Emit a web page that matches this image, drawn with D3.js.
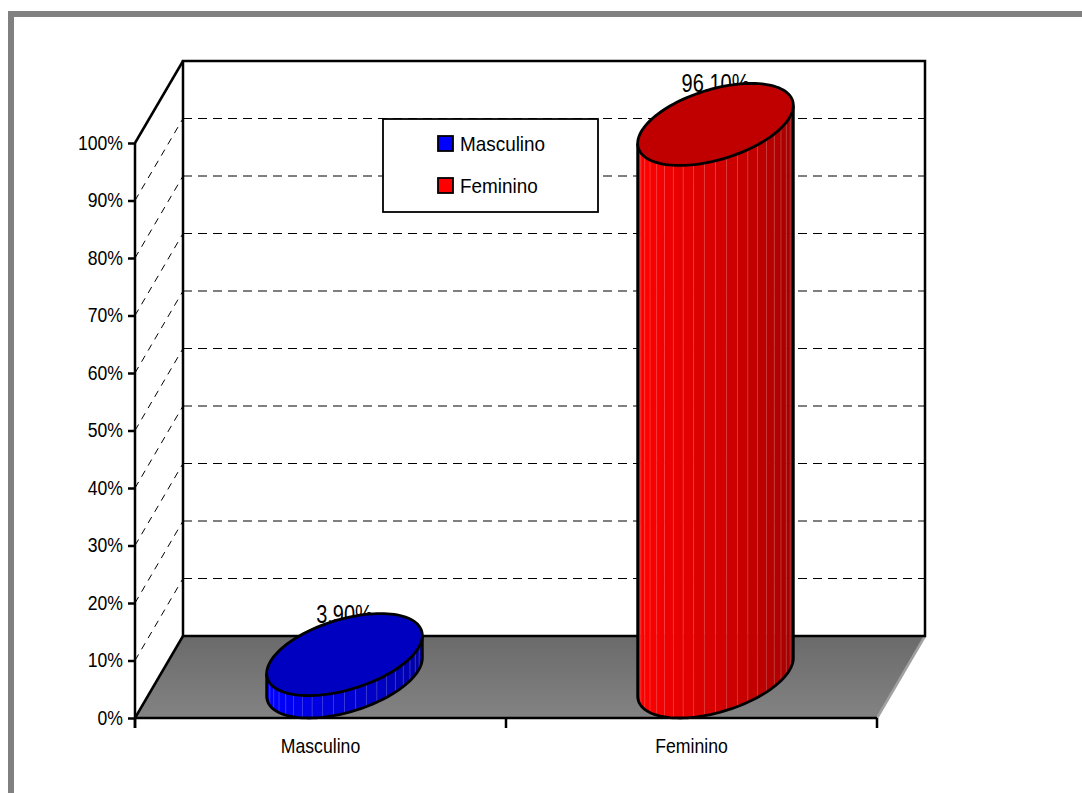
<!DOCTYPE html>
<html><head><meta charset="utf-8">
<script src="https://cdn.jsdelivr.net/npm/d3@7"></script>
<style>
html,body{margin:0;padding:0;background:#fff;overflow:hidden;}
svg{display:block;}
text{font-family:"Liberation Sans",Arial,sans-serif;}
</style></head>
<body>
<svg id="chart" width="1082" height="793"></svg>
<script>
const categories = ["Masculino", "Feminino"];
const values = [0.039, 0.961];
const valueLabels = ["3,90%", "96,10%"];
const colorsTop = ["#0000c0", "#c00000"];
const colorsLight = ["#0000ff", "#ff0000"];
const colorsDark = ["#000099", "#990000"];
const yTicks = [0, 0.1, 0.2, 0.3, 0.4, 0.5, 0.6, 0.7, 0.8, 0.9, 1.0];

const svg = d3.select("#chart");

function condense(sel, f) {
  sel.each(function() {
    const w = this.getComputedTextLength();
    d3.select(this).attr("textLength", w * f).attr("lengthAdjust", "spacingAndGlyphs");
  });
}

// frame
svg.append("rect").attr("x", 11).attr("y", 14).attr("width", 1300).attr("height", 1000)
  .attr("fill", "none").attr("stroke", "#808080").attr("stroke-width", 6);

// 3D geometry
const x0 = 135, x1 = 877, yBottom = 718, yTop = 143;
const DX = 48, DY = -82;
const x = d3.scaleBand().domain(categories).range([x0, x1]);
const y = d3.scaleLinear().domain([0, 1]).range([yBottom, yTop]);

const defs = svg.append("defs");
const fg = defs.append("linearGradient").attr("id", "floorGrad").attr("x1", 0).attr("y1", 0).attr("x2", 0).attr("y2", 1);
fg.append("stop").attr("offset", "0%").attr("stop-color", "#6a6a6a");
fg.append("stop").attr("offset", "100%").attr("stop-color", "#838383");

// floor
svg.append("path")
  .attr("d", `M${x0},${y(0)} L${x0+DX},${y(0)+DY} L${x1+DX},${y(0)+DY} L${x1},${y(0)} Z`)
  .attr("fill", "url(#floorGrad)");
svg.append("line").attr("x1", x1).attr("y1", y(0)).attr("x2", x1+DX).attr("y2", y(0)+DY)
  .attr("stroke", "#a0a0a0").attr("stroke-width", 2.5);

// back wall gridlines
const gridVals = yTicks.filter(v => v > 0 && v < 1);
svg.append("g").selectAll("line").data(gridVals).join("line")
  .attr("x1", x0+DX).attr("x2", x1+DX)
  .attr("y1", d => y(d)+DY).attr("y2", d => y(d)+DY)
  .attr("stroke", "#000").attr("stroke-width", 1).attr("stroke-dasharray", "9,6");
// side wall diagonals
svg.append("g").selectAll("line").data(gridVals).join("line")
  .attr("x1", x0).attr("y1", d => y(d))
  .attr("x2", x0+DX).attr("y2", d => y(d)+DY)
  .attr("stroke", "#000").attr("stroke-width", 1).attr("stroke-dasharray", "7,6");

// back wall frame
svg.append("path")
  .attr("d", `M${x0+DX},${y(0)+DY} L${x0+DX},${y(1)+DY} L${x1+DX},${y(1)+DY} L${x1+DX},${y(0)+DY} Z`)
  .attr("fill", "none").attr("stroke", "#000").attr("stroke-width", 2.5);
svg.append("line").attr("x1", x0).attr("y1", y(1)).attr("x2", x0+DX).attr("y2", y(1)+DY)
  .attr("stroke", "#000").attr("stroke-width", 2.5);
svg.append("line").attr("x1", x0).attr("y1", y(0)).attr("x2", x0+DX).attr("y2", y(0)+DY)
  .attr("stroke", "#000").attr("stroke-width", 2.5);
svg.append("line").attr("x1", x0).attr("y1", y(0)).attr("x2", x1).attr("y2", y(0))
  .attr("stroke", "#000").attr("stroke-width", 2.5);

// y axis
const yAxis = d3.axisLeft(y).tickValues(yTicks).tickFormat(d3.format(".0%")).tickSize(7).tickPadding(5);
const gy = svg.append("g").attr("transform", `translate(${x0},0)`).call(yAxis);
gy.select(".domain").remove();
gy.selectAll(".tick line").attr("stroke", "#000").attr("stroke-width", 2.5);
gy.selectAll(".tick text").attr("font-size", 20).attr("fill", "#000")
  .attr("font-family", "'Liberation Sans',Arial,sans-serif");
condense(gy.selectAll(".tick text"), 0.88);
svg.append("line").attr("x1", x0).attr("y1", y(1)).attr("x2", x0).attr("y2", y(0)+10)
  .attr("stroke", "#000").attr("stroke-width", 2.5);

// x axis labels
const xAxis = d3.axisBottom(x).tickSize(0).tickPadding(20);
const gx = svg.append("g").attr("transform", `translate(0,${y(0)})`).call(xAxis);
gx.select(".domain").remove();
gx.selectAll(".tick text").attr("font-size", 21).attr("fill", "#000")
  .attr("font-family", "'Liberation Sans',Arial,sans-serif");
condense(gx.selectAll(".tick text"), 0.84);
const bounds = [x0].concat(categories.map(c => x(c) + x.bandwidth()));
svg.append("g").selectAll("line").data(bounds).join("line")
  .attr("x1", d => d).attr("x2", d => d).attr("y1", y(0)).attr("y2", y(0)+10)
  .attr("stroke", "#000").attr("stroke-width", 2.5);

// value labels (behind cylinders)
const R = 69, A = 36, B = 41;
const vl = svg.append("g").selectAll("text").data(categories).join("text")
  .attr("x", (c) => x(c) + x.bandwidth()/2 + DX/2)
  .attr("y", (c, i) => y(values[i]) + DY/2 - B + 9)
  .attr("text-anchor", "middle").attr("font-size", 25).attr("fill", "#000")
  .text((c, i) => valueLabels[i]);
condense(vl, 0.8);

// cylinders
const line = d3.line();
function pt(cx, cy, t) { return [cx + R*Math.cos(t) + A*Math.sin(t), cy - B*Math.sin(t)]; }
const phi = Math.atan(A / R);
categories.forEach((c, i) => {
  const cx = x(c) + x.bandwidth()/2 + DX/2;
  const cyB = y(0) + DY/2;
  const cyT = y(values[i]) + DY/2;
  const g = svg.append("g");
  const tL = Math.PI + phi, tR = 2*Math.PI + phi;
  const N = 22;
  const col = d3.scaleLinear().domain([0, 0.15, 1])
    .range([d3.interpolateRgb(colorsLight[i], colorsDark[i])(0.12), colorsLight[i], colorsDark[i]]);
  for (let k = 0; k < N; k++) {
    const ta = tL + (tR - tL) * k / N, tb = tL + (tR - tL) * (k+1) / N;
    const p = [pt(cx, cyT, ta), pt(cx, cyT, tb), pt(cx, cyB, tb), pt(cx, cyB, ta)];
    g.append("path").attr("d", line(p) + "Z")
      .attr("fill", col((k+0.5)/N))
      .attr("stroke", col((k+0.5)/N)).attr("stroke-width", 0.6);
  }
  for (let k = 1; k < N; k++) {
    const t = tL + (tR - tL) * k / N;
    const p1 = pt(cx, cyT, t), p2 = pt(cx, cyB, t);
    g.append("line").attr("x1", p1[0]).attr("y1", p1[1]).attr("x2", p2[0]).attr("y2", p2[1])
      .attr("stroke", "#ffffff").attr("stroke-opacity", 0.2).attr("stroke-width", 1);
  }
  const bottomArc = d3.range(0, 61).map(j => pt(cx, cyB, tL + (tR - tL) * j / 60));
  g.append("path").attr("d", line([pt(cx, cyT, tL)].concat(bottomArc).concat([pt(cx, cyT, tR)])))
    .attr("fill", "none").attr("stroke", "#000").attr("stroke-width", 2.8).attr("stroke-linejoin", "round");
  const topPts = d3.range(0, 120).map(j => pt(cx, cyT, 2*Math.PI * j / 120));
  g.append("path").attr("d", line(topPts) + "Z")
    .attr("fill", colorsTop[i]).attr("stroke", "#000").attr("stroke-width", 2.8);
});

// legend
const lg = svg.append("g");
lg.append("rect").attr("x", 383).attr("y", 119).attr("width", 215).attr("height", 93)
  .attr("fill", "#fff").attr("stroke", "#000").attr("stroke-width", 1.8);
const li = lg.selectAll("g.item").data(categories).join("g").attr("class", "item")
  .attr("transform", (d, i) => `translate(438,${136 + i*42})`);
li.append("rect").attr("width", 15).attr("height", 15)
  .attr("fill", (d, i) => colorsLight[i]).attr("stroke", "#000").attr("stroke-width", 1.8);
const lt = li.append("text").attr("x", 22).attr("y", 15).attr("font-size", 21).attr("fill", "#000").text(d => d);
condense(lt, 0.9);
</script>
</body></html>
